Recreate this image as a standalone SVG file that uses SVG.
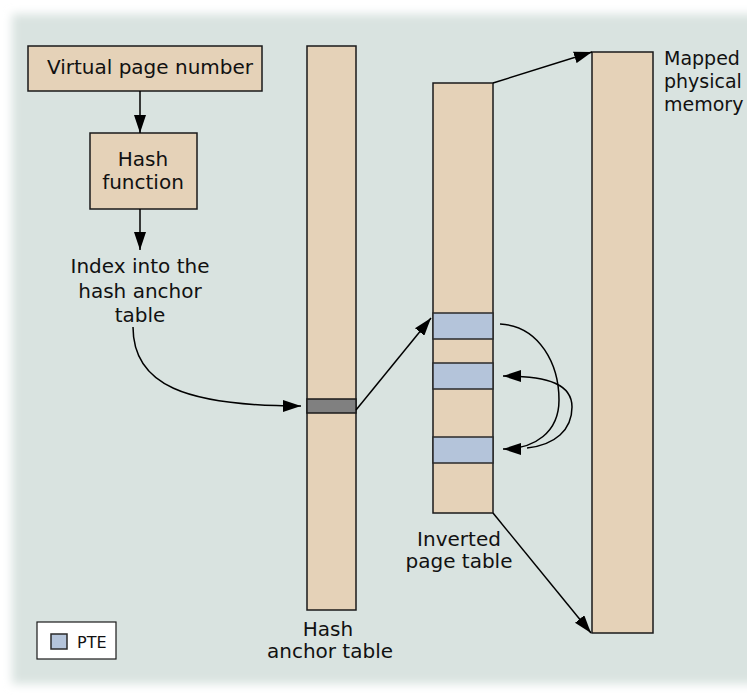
<svg xmlns="http://www.w3.org/2000/svg" width="747" height="696" viewBox="0 0 747 696">
<defs>
<filter id="soft" x="-5%" y="-5%" width="110%" height="110%"><feGaussianBlur stdDeviation="5"/></filter>
<marker id="ah" markerUnits="userSpaceOnUse" markerWidth="18" markerHeight="12" refX="18" refY="6" orient="auto"><path d="M0,0 L18,6 L0,12 z" fill="#000"/></marker>
<style>
.box{fill:#e5d2b8;stroke:#1a1a1a;stroke-width:1.5}
.pte{fill:#b4c4da;stroke:#2a2a2a;stroke-width:1.5}
.t{font-family:"DejaVu Sans",sans-serif;font-size:20px;fill:#111;text-anchor:middle}
.m{font-family:"DejaVu Sans",sans-serif;font-size:19px;fill:#111}
.c{fill:none;stroke:#000;stroke-width:1.5}
</style>
</defs>
<rect width="747" height="696" fill="#fff"/>
<rect x="12" y="14" width="760" height="670" fill="#d9e3e0" filter="url(#soft)"/>

<g id="vpn"><rect class="box" x="28" y="46" width="234" height="45"/><text class="t" x="150" y="74">Virtual page number</text></g>
<g id="hash"><rect class="box" x="90" y="133" width="107" height="76"/><text class="t" x="143" y="166">Hash</text><text class="t" x="143" y="189">function</text></g>
<g id="index"><text class="t" x="140" y="273">Index into the</text><text class="t" x="140" y="298">hash anchor</text><text class="t" x="140" y="322">table</text></g>
<g id="hat"><rect class="box" x="307" y="46" width="49" height="564"/><rect x="307" y="399" width="49" height="14" fill="#808080" stroke="#1a1a1a" stroke-width="1.5"/><text class="t" x="328" y="636">Hash</text><text class="t" x="330" y="658">anchor table</text></g>
<g id="ipt"><rect class="box" x="433" y="83" width="60" height="430"/><rect class="pte" x="433" y="313" width="60" height="26"/><rect class="pte" x="433" y="363" width="60" height="26"/><rect class="pte" x="433" y="437" width="60" height="26"/><text class="t" x="459" y="546">Inverted</text><text class="t" x="459" y="568">page table</text></g>
<g id="mem"><rect class="box" x="592" y="52" width="61" height="581"/><text class="m" x="664" y="65">Mapped</text><text class="m" x="664" y="88">physical</text><text class="m" x="664" y="111">memory</text></g>
<g id="legend"><rect x="37" y="622" width="79" height="37" fill="#fff" stroke="#1a1a1a" stroke-width="1.2"/><rect class="pte" x="51" y="634" width="16" height="15" stroke-width="1"/><text x="77" y="648" style="font-family:'DejaVu Sans',sans-serif;font-size:16px;fill:#111">PTE</text></g>

<g id="connectors">
<path class="c" d="M140,91 L140,133" marker-end="url(#ah)"/>
<path class="c" d="M140,209 L140,250" marker-end="url(#ah)"/>
<path class="c" d="M133,327 C133,385 185,406 301,406" marker-end="url(#ah)"/>
<path class="c" d="M356,410 L431,318" marker-end="url(#ah)"/>
<path class="c" d="M493,83 L592,52" marker-end="url(#ah)"/>
<path class="c" d="M493,513 L591,633" marker-end="url(#ah)"/>
<path class="c" d="M500,324 C540,326 559,365 559,400 C559,432 535,449 503,449" marker-end="url(#ah)"/>
<path class="c" d="M527,448 C555,445 572,430 572,407 C572,385 550,376 503,376" marker-end="url(#ah)"/>
</g>
</svg>
